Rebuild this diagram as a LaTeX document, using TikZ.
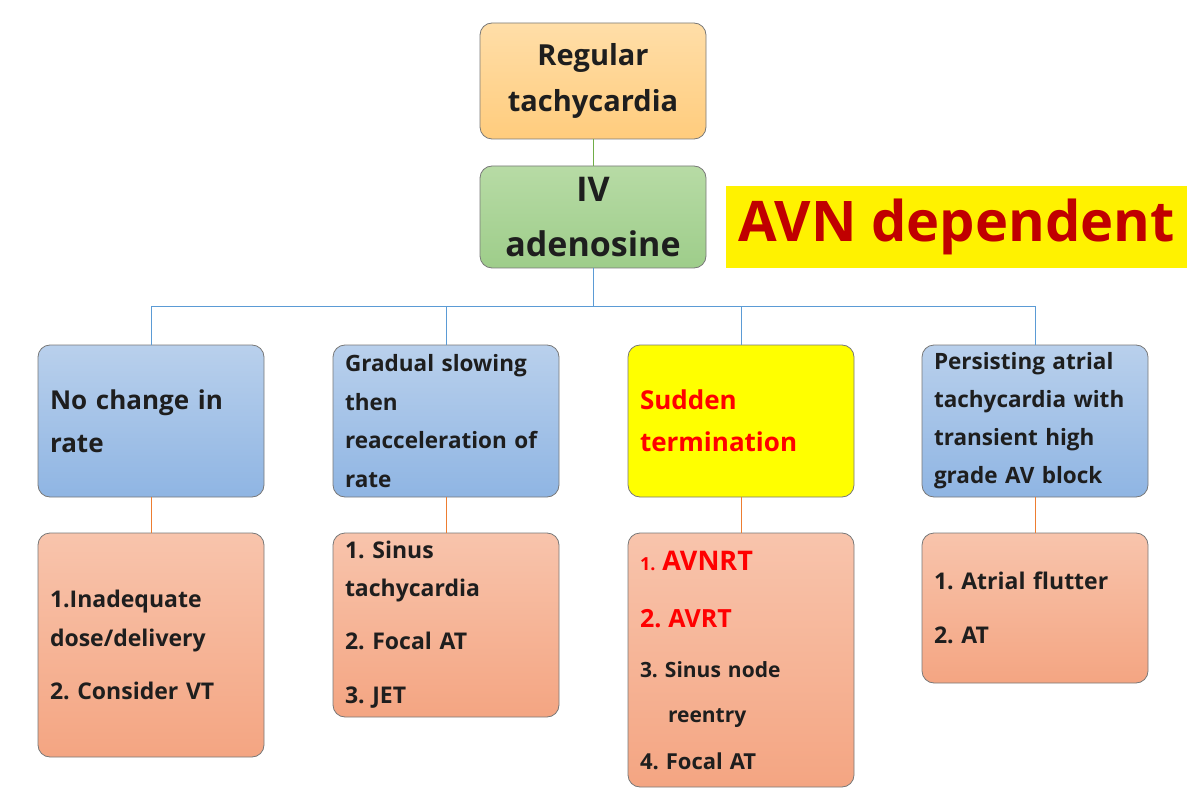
\documentclass[tikz,border=0pt]{standalone}
\usepackage{fontspec}
\setmainfont{Open Sans}
\frenchspacing
\definecolor{orangetop}{RGB}{255, 222, 168}
\definecolor{orangebot}{RGB}{255, 204, 125}
\definecolor{greentop}{RGB}{183, 219, 165}
\definecolor{greenbot}{RGB}{158, 205, 138}
\definecolor{bluetop}{RGB}{185, 208, 236}
\definecolor{bluebot}{RGB}{143, 181, 227}
\definecolor{salmontop}{RGB}{248, 196, 172}
\definecolor{salmonbot}{RGB}{244, 165, 130}
\definecolor{boxedge}{RGB}{120, 120, 120}
\definecolor{greenline}{RGB}{112, 173, 71}
\definecolor{blueline}{RGB}{91, 155, 213}
\definecolor{orangeline}{RGB}{237, 125, 49}
\definecolor{avnred}{RGB}{192, 0, 0}
\definecolor{hotred}{RGB}{255, 0, 0}
\definecolor{inkblack}{RGB}{30, 30, 30}
\usetikzlibrary{positioning}
\begin{document}
\begin{tikzpicture}[x=1pt, y=-1pt,
  card/.style={draw=boxedge, line width=0.8pt, rounded corners=12pt, text=inkblack,
    minimum width=226pt, inner xsep=12pt, inner ysep=3pt, text width=202pt, align=left},
  respbox/.style={card, top color=bluetop, bottom color=bluebot, minimum height=152pt},
  dxbox/.style={card, top color=salmontop, bottom color=salmonbot},
  link/.style={line width=1pt}]
  \useasboundingbox (0,0) rectangle (1194,802);

  % Top of the tree
  \node[card, top color=orangetop, bottom color=orangebot, minimum height=116pt, align=center,
    font=\fontsize{29}{46}\selectfont\bfseries] (regtachy) at (593, 81) {Regular\\tachycardia};
  \node[card, top color=greentop, bottom color=greenbot, minimum height=102pt, align=center,
    font=\fontsize{34}{55}\selectfont\bfseries] (ivadeno) at (593, 217) {IV\\adenosine};
  \draw[link, greenline] (regtachy.south) -- (ivadeno.north);

  % Banner
  \node[fill=yellow, minimum width=461pt, minimum height=82pt, inner sep=0pt, text=avnred,
    font=\fontsize{56}{60}\selectfont\bfseries] (avndep) at (956.5, 227) {AVN dependent};

  % Responses to adenosine
  \node[respbox, font=\fontsize{26}{43}\selectfont\bfseries] (nochange) at (151, 421) {No change in\\rate};
  \node[respbox, font=\fontsize{22.5}{38.5}\selectfont\bfseries] (gradual) at (446, 421) {Gradual slowing\\then\\reacceleration of\\rate};
  \node[respbox, top color=yellow, bottom color=yellow, text=hotred,
    font=\fontsize{26}{42}\selectfont\bfseries] (sudden) at (741, 421) {Sudden\\termination};
  \node[respbox, font=\fontsize{22.5}{38}\selectfont\bfseries] (persist) at (1035, 421) {Persisting atrial\\tachycardia with\\transient high\\grade AV block};

  \coordinate (split) at (593, 307);
  \draw[link, blueline] (ivadeno.south) -- (split);
  \foreach \resp in {nochange, gradual, sudden, persist}
    \draw[link, blueline] (split) -| (\resp.north);

  % Diagnoses
  \node[dxbox, minimum height=224pt, font=\fontsize{23}{39}\selectfont\bfseries] (nochangedx) at (151, 645)
    {1.Inadequate\\dose/delivery\\[14pt]2. Consider VT};
  \node[dxbox, minimum height=184pt, font=\fontsize{23}{38}\selectfont\bfseries] (gradualdx) at (446, 625)
    {1. Sinus\\tachycardia\\[15pt]2. Focal AT\\[16pt]3. JET};
  \node[dxbox, minimum height=254pt, font=\fontsize{21}{47}\selectfont\bfseries] (suddendx) at (741, 660)
    {\textcolor{hotred}{{\fontsize{18}{47}\selectfont 1.} {\fontsize{27}{47}\selectfont AVNRT}}\\[10pt]
     \textcolor{hotred}{\fontsize{25}{47}\selectfont 2. AVRT}\\[3pt]
     3. Sinus node\\[-2pt]
     \hspace*{28pt}reentry\\
     {\fontsize{22}{47}\selectfont 4. Focal AT}};
  \node[dxbox, minimum height=150pt, font=\fontsize{23}{54}\selectfont\bfseries] (persistdx) at (1035, 608)
    {1. Atrial flutter\\2. AT};

  \foreach \resp in {nochange, gradual, sudden, persist}
    \draw[link, orangeline] (\resp.south) -- (\resp dx.north);
\end{tikzpicture}
\end{document}
